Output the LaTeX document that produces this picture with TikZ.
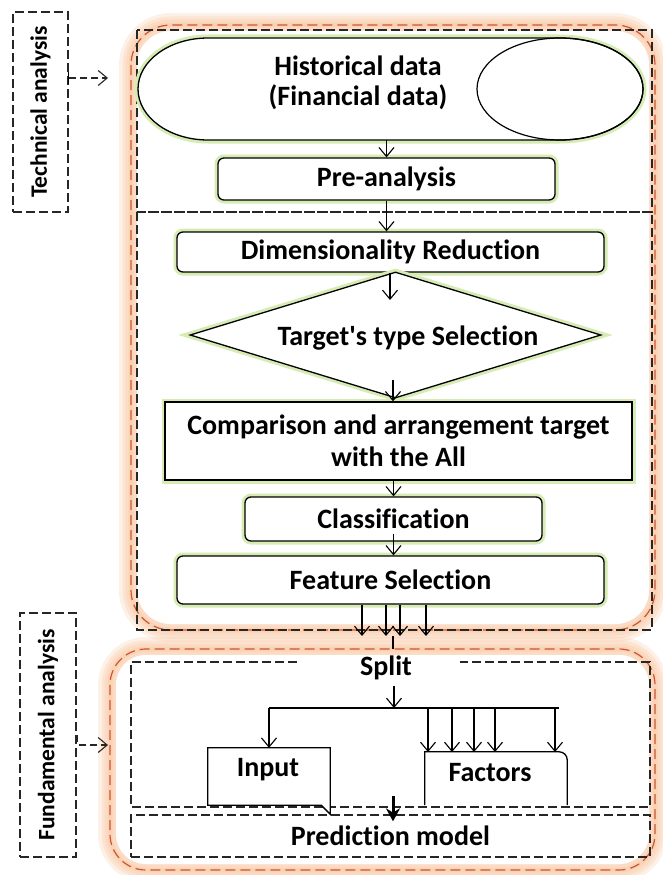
\documentclass[tikz,border=0pt]{standalone}
\usepackage{fontspec}
\setmainfont{Carlito}[Ligatures={TeXOff,CommonOff}]
\usetikzlibrary{arrows.meta,shapes.geometric,calc}
\definecolor{glowgreen}{RGB}{214,236,180}
\definecolor{glowor}{RGB}{247,186,140}
\definecolor{reddash}{RGB}{205,85,50}
\begin{document}
\begin{tikzpicture}[x=1pt,y=-1pt,
  font=\bfseries\fontsize{28}{32}\selectfont,
  bx/.style={draw=black, line width=1.3pt, fill=white,
    preaction={draw=glowgreen, line width=7pt},
    inner sep=0pt, align=center},
  rbx/.style={bx, rounded corners=6pt},
  txt/.style={inner sep=0pt, align=center},
  side/.style={font=\bfseries\fontsize{23.5}{27}\selectfont},
  arr/.style={-{Straight Barb[length=9pt,width=15pt]}, line width=1.1pt},
  dbox/.style={draw=black!85, dash pattern=on 9pt off 4pt, line width=1.3pt},
  reddsh/.style={draw=reddash, dash pattern=on 10pt off 5pt, line width=1.2pt},
  halo/.style={draw=glowor, line width=#1, opacity=0.22},
]
\useasboundingbox (0,0) rectangle (663,875);

% orange halos of the two analysis groups
\foreach \w in {24pt,17pt,11pt,5pt}{
  \draw[halo=\w, rounded corners=40pt] (131,25) rectangle (655,630);
  \draw[halo=\w, rounded corners=36pt] (110,649) rectangle (655,870);
}
\fill[white, rounded corners=34pt] (137,31) rectangle (649,624);
\fill[white, rounded corners=30pt] (116,655) rectangle (649,864);
\draw[reddsh, rounded corners=40pt] (131,25) rectangle (655,630);
\draw[reddsh, rounded corners=36pt] (110,649) rectangle (655,870);

% dashed section frames
\draw[dbox] (137,30) rectangle (652,212);
\draw[dbox] (137,212) rectangle (652,630);
\draw[dbox] (297,662) -- (131,662) -- (131,807) -- (650,807) -- (650,662) -- (460,662);

% side labels
\node[dbox, side, minimum width=55pt, minimum height=200pt, inner sep=0pt] (tech) at (40.5,112)
  {\rotatebox{90}{Technical analysis}};
\node[dbox, side, minimum width=56pt, minimum height=244pt, inner sep=0pt] (fund) at (48,735)
  {\rotatebox{90}{Fundamental analysis}};
\coordinate (ta) at (108,78);
\coordinate (fa) at (108,745);
\draw[line width=1.1pt] (tech.east |- ta) ++(0,-6) -- ++(0,12);
\draw[dbox, arr, dash pattern=on 7pt off 4pt] (tech.east |- ta) -- (ta);
\draw[dbox, arr, dash pattern=on 7pt off 4pt] ($(fund.east |- fa)+(1,-10)$) |- (fa);

% technical analysis flow
\node[minimum width=505pt, minimum height=102pt, inner sep=0pt] (hist) at (390.5,89) {};
\draw[line width=1.3pt, fill=white, preaction={draw=glowgreen, line width=7pt}]
  (208,38) -- (560,38) arc[start angle=90, end angle=-90, x radius=83pt, y radius=51pt]
  -- (208,140) arc[start angle=270, end angle=90, x radius=70pt, y radius=51pt] -- cycle;
\node[draw=black, line width=1.2pt, ellipse, minimum width=166pt, minimum height=102pt, inner sep=0pt] (oval) at (560,89) {};
\node[txt, font=\bfseries\fontsize{28}{30}\selectfont] (histtxt) at (358,83) {Historical data\\(Financial data)};
\node[rbx, minimum width=337pt, minimum height=42pt] (pre) at (386.5,179) {Pre-analysis};
\node[rbx, minimum width=427pt, minimum height=40pt] (dim) at (390.5,252) {Dimensionality Reduction};
\node[bx, diamond, minimum width=411pt, minimum height=126pt] (sel) at (395.5,335) {};
\node[txt] (seltxt) at (408,338) {Target's type Selection};
\node[bx, minimum width=467pt, minimum height=78pt] (cmp) at (398.5,441)
  {Comparison and arrangement target\\with the All};
\node[rbx, minimum width=297pt, minimum height=44pt] (cls) at (393.5,519) {Classification};
\node[rbx, minimum width=427pt, minimum height=48pt] (feat) at (390.5,580) {Feature Selection};

\draw[arr] (hist.south -| pre.north) -- (pre.north);
\draw[arr] (pre.south) -- (pre.south |- dim.north);
\coordinate (selin) at (390,300);
\draw[arr] (dim.south -| selin) -- (selin);
\coordinate (selout) at (393,380);
\draw[arr] (selout) -- (selout |- cmp.north);
\draw[arr] (cmp.south -| cls.south) -- (cls.north);
\draw[arr] ($(cls.south)+(0,-8)$) -- (cls.south |- feat.north);

% four outputs of feature selection
\foreach \x in {362,386,400,426}
  \draw[arr] (feat.south -| \x,0) -- (\x,636);
\coordinate (join) at (393,636);
\coordinate (joinb) at (393,649);
\draw[line width=1.1pt] (join) -- (joinb);

% fundamental analysis flow
\node[txt] (split) at (386,668) {Split};
\coordinate (bus) at (394,708);
\draw[arr] ($(split.south)+(8,6)$) -- (bus);

\node[minimum width=122pt, minimum height=57pt, inner sep=0pt] (input) at (269,776.5) {};
\draw[line width=1.3pt, fill=white]
  (input.north west) -- (input.north east) -- ($(input.south east)+(0,9)$)
  -- ($(input.south east)+(-9,0)$) -- (input.south west) -- cycle;
\draw[line width=0.9pt] ($(input.south east)+(0,9)$) .. controls ($(input.south east)+(-5,4)$) .. ($(input.south east)+(-9,0)$);
\node[txt] (inputtxt) at (268,770) {Input};

\node[minimum width=142pt, minimum height=53pt, inner sep=0pt] (fac) at (496,778.5) {};
\draw[line width=1.3pt, fill=white]
  (fac.south west) -- (fac.north west) -- ($(fac.north east)+(-8,0)$)
  to[out=0,in=90] ($(fac.north east)+(0,8)$) -- (fac.south east);
\node[txt] (factxt) at (490,773) {Factors};

\draw[line width=1.1pt] (bus -| input.north) -- (bus -| 559,0);
\draw[arr] (bus -| input.north) -- (input.north);
\foreach \x in {428,452,474,495,555}
  \draw[arr] (bus -| \x,0) -- (\x,752);

\node[dbox, minimum width=519pt, minimum height=42pt, inner sep=0pt] (pred) at (390.5,836) {Prediction model};
\coordinate (thick) at (393,796);
\draw[line width=3pt, -{Stealth[length=13pt,width=14pt]}] (thick) -- (thick |- pred.north) -- ++(0,7);
\end{tikzpicture}
\end{document}
